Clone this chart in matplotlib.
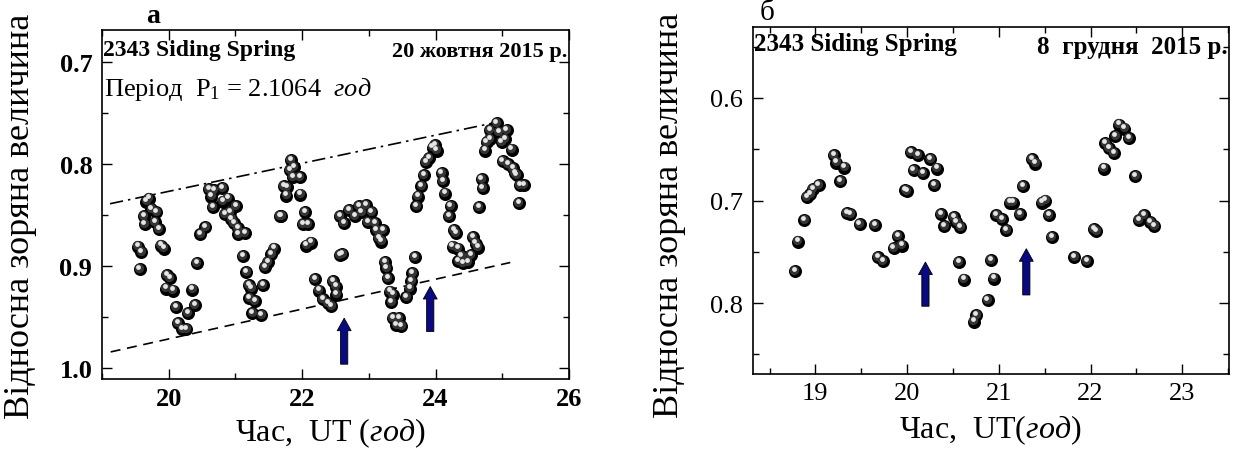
import matplotlib
matplotlib.use("Agg")
import matplotlib.pyplot as plt
from matplotlib.transforms import offset_copy
from matplotlib.ticker import MultipleLocator

plt.rcParams['font.family'] = ['Liberation Serif', 'DejaVu Serif']
plt.rcParams['mathtext.fontset'] = 'custom'
plt.rcParams['mathtext.rm'] = 'Liberation Serif'
plt.rcParams['mathtext.it'] = 'Liberation Serif:italic'

# -----------------------------------------------------------
# дані: 20 жовтня 2015 (панель а)
# -----------------------------------------------------------
t1 = [19.540, 19.565, 19.590, 19.630, 19.640, 19.665, 19.705, 19.740, 19.790, 19.815,
      19.855, 19.880, 19.925, 19.955, 19.975, 20.015, 20.065, 20.105, 20.140, 20.205,
      20.265, 20.290, 20.355, 20.390, 20.425, 20.475, 20.550, 20.605, 20.640, 20.665,
      20.675, 20.805, 20.815, 20.840, 20.890, 20.915, 20.940, 20.975, 21.005, 21.040,
      21.045, 21.115, 21.140, 21.165, 21.205, 21.210, 21.240, 21.255, 21.290, 21.390,
      21.415, 21.440, 21.490, 21.540, 21.580, 21.665, 21.690, 21.725, 21.765, 21.775,
      21.815, 21.830, 21.865, 21.875, 21.965, 21.975, 22.015, 22.040, 22.065, 22.090,
      22.130, 22.190, 22.255, 22.314, 22.389, 22.439, 22.464, 22.504, 22.514, 22.564,
      22.565, 22.604, 22.624, 22.704, 22.789, 22.854, 22.889, 22.954, 22.989, 23.039,
      23.089, 23.114, 23.154, 23.189, 23.214, 23.239, 23.264, 23.289, 23.314, 23.339,
      23.364, 23.366, 23.414, 23.454, 23.489, 23.564, 23.614, 23.639, 23.654, 23.689,
      23.714, 23.739, 23.789, 23.824, 23.854, 23.904, 23.954, 23.989, 24.014, 24.089,
      24.114, 24.139, 24.204, 24.224, 24.254, 24.274, 24.304, 24.339, 24.341, 24.389,
      24.414, 24.489, 24.529, 24.564, 24.599, 24.639, 24.649, 24.689, 24.704, 24.739,
      24.764, 24.814, 24.816, 24.914, 24.954, 24.989, 25.004, 25.039, 25.064, 25.089,
      25.139, 25.164, 25.189, 25.214, 25.254, 25.264, 25.324]
m1 = [0.881, 0.903, 0.886, 0.851, 0.859, 0.837, 0.834, 0.844, 0.857, 0.847,
      0.864, 0.880, 0.883, 0.922, 0.909, 0.912, 0.924, 0.940, 0.956, 0.962,
      0.962, 0.946, 0.923, 0.938, 0.897, 0.869, 0.862, 0.825, 0.832, 0.842,
      0.826, 0.824, 0.837, 0.849, 0.834, 0.847, 0.854, 0.858, 0.841, 0.863,
      0.869, 0.890, 0.868, 0.906, 0.919, 0.931, 0.922, 0.946, 0.934, 0.948,
      0.919, 0.901, 0.896, 0.888, 0.883, 0.851, 0.851, 0.822, 0.831, 0.823,
      0.806, 0.796, 0.813, 0.803, 0.813, 0.830, 0.859, 0.847, 0.880, 0.859,
      0.877, 0.913, 0.924, 0.932, 0.936, 0.939, 0.915, 0.920, 0.928, 0.889,
      0.851, 0.888, 0.858, 0.845, 0.851, 0.841, 0.847, 0.840, 0.857, 0.847,
      0.858, 0.865, 0.873, 0.876, 0.865, 0.896, 0.902, 0.912, 0.925, 0.935,
      0.928, 0.951, 0.958, 0.951, 0.959, 0.930, 0.922, 0.915, 0.907, 0.891,
      0.841, 0.832, 0.822, 0.811, 0.798, 0.794, 0.784, 0.782, 0.787, 0.809,
      0.817, 0.829, 0.851, 0.841, 0.881, 0.865, 0.868, 0.883, 0.895, 0.890,
      0.897, 0.896, 0.889, 0.872, 0.878, 0.882, 0.842, 0.815, 0.824, 0.787,
      0.779, 0.776, 0.767, 0.760, 0.769, 0.779, 0.797, 0.776, 0.767, 0.800,
      0.786, 0.804, 0.809, 0.811, 0.838, 0.821, 0.821]

# огинаючі (верхня штрих-пунктир, нижня штрихова)
env_t1 = [19.12, 25.01]
env_up1 = [0.839, 0.758]
env_t2 = [19.13, 25.12]
env_lo1 = [0.984, 0.8965]

# стрілки: час, вістря, основа
arr_t1 = [22.63, 23.92]
arr_tip1 = [0.951, 0.920]
arr_base1 = [0.996, 0.964]

# -----------------------------------------------------------
# дані: 8 грудня 2015 (панель б)
# -----------------------------------------------------------
t2 = [18.775, 18.811, 18.880, 18.909, 18.945, 18.975, 19.036, 19.200, 19.229, 19.273,
      19.316, 19.345, 19.382, 19.483, 19.647, 19.680, 19.738, 19.854, 19.901, 19.945,
      19.981, 20.000, 20.043, 20.072, 20.116, 20.174, 20.254, 20.298, 20.327, 20.371,
      20.407, 20.509, 20.538, 20.563, 20.581, 20.618, 20.727, 20.756, 20.879, 20.916,
      20.945, 20.974, 21.036, 21.083, 21.119, 21.156, 21.229, 21.265, 21.363, 21.400,
      21.472, 21.509, 21.545, 21.581, 21.825, 21.963, 22.035, 22.064, 22.144, 22.163,
      22.199, 22.254, 22.272, 22.308, 22.370, 22.418, 22.490, 22.526, 22.581, 22.654,
      22.697]
m2 = [0.769, 0.740, 0.719, 0.697, 0.694, 0.689, 0.685, 0.656, 0.663, 0.681,
      0.668, 0.712, 0.713, 0.723, 0.724, 0.755, 0.759, 0.746, 0.735, 0.744,
      0.690, 0.691, 0.653, 0.670, 0.656, 0.673, 0.660, 0.685, 0.669, 0.713,
      0.725, 0.716, 0.721, 0.760, 0.726, 0.777, 0.818, 0.812, 0.797, 0.758,
      0.776, 0.714, 0.718, 0.729, 0.702, 0.702, 0.713, 0.686, 0.660, 0.664,
      0.702, 0.700, 0.714, 0.736, 0.755, 0.759, 0.728, 0.730, 0.669, 0.644,
      0.649, 0.654, 0.637, 0.626, 0.630, 0.639, 0.676, 0.719, 0.714, 0.721,
      0.725]

arr_t2 = [20.20, 21.30]
arr_tip2 = [0.760, 0.747]
arr_base2 = [0.803, 0.792]


def spheres(ax, x, y):
    # блискучі кульки: чорна основа + сірий відблиск
    ax.scatter(x, y, s=88, color='black', zorder=3, linewidths=0)
    tr = offset_copy(ax.transData, fig=ax.figure, x=-0.8, y=1.2, units='dots')
    ax.scatter(x, y, s=45, color='#353535', zorder=4, linewidths=0, transform=tr)
    tr2 = offset_copy(ax.transData, fig=ax.figure, x=-1.2, y=2.2, units='dots')
    ax.scatter(x, y, s=12, color='#e6e6e6', zorder=5, linewidths=0, transform=tr2)


def arrows(ax, ts, tips, bases):
    for t, a, b in zip(ts, tips, bases):
        ax.annotate('', xy=(t, a), xytext=(t, b),
                    arrowprops=dict(arrowstyle='simple,head_length=0.45,head_width=0.5,tail_width=0.26',
                                    fc='#0a0a80', ec='black', lw=0.6,
                                    shrinkA=0, shrinkB=0, mutation_scale=20),
                    zorder=6)


def style_axes(ax):
    ax.tick_params(which='both', direction='in', top=True, right=True, width=1.0)
    ax.tick_params(which='major', length=7)
    ax.tick_params(which='minor', length=4)
    ax.tick_params(axis='x', pad=6)
    ax.tick_params(axis='y', pad=7)
    for sp in ax.spines.values():
        sp.set_linewidth(1.2)


fig = plt.figure(figsize=(12.36, 4.52), dpi=100)

# -------------------- панель а --------------------
ax1 = fig.add_axes([102 / 1236, 72 / 452, 467 / 1236, 349 / 452])
spheres(ax1, t1, m1)
ax1.plot(env_t1, env_up1, color='black', lw=1.2, ls='-.', dashes=[8, 3, 1.5, 3])
ax1.plot(env_t2, env_lo1, color='black', lw=1.2, ls='--', dashes=[6, 4])
arrows(ax1, arr_t1, arr_tip1, arr_base1)

ax1.set_xlim(19, 26)
ax1.set_ylim(1.0105, 0.669)
ax1.xaxis.set_major_locator(MultipleLocator(2))
ax1.xaxis.set_minor_locator(MultipleLocator(1))
ax1.yaxis.set_major_locator(MultipleLocator(0.1))
ax1.yaxis.set_minor_locator(MultipleLocator(0.05))
ax1.yaxis.set_major_formatter(plt.FormatStrFormatter('%.1f'))
style_axes(ax1)
for lab in ax1.get_xticklabels() + ax1.get_yticklabels():
    lab.set_fontweight('bold')
    lab.set_fontsize(19)

ax1.set_xlabel('Час,  UT ($\\mathit{год}$)', fontsize=23)
ax1.xaxis.set_label_coords(0.488, -0.105)
ax1.set_ylabel('Відносна зоряна величина', fontsize=26)
ax1.yaxis.set_label_coords(-0.14, 0.47)

ax1.text(0.003, 0.975, '2343 Siding Spring', transform=ax1.transAxes,
         fontsize=17, fontweight='bold', ha='left', va='top')
ax1.text(0.997, 0.968, '20 жовтня 2015 р.', transform=ax1.transAxes,
         fontsize=16, fontweight='bold', ha='right', va='top')
ax1.text(0.005, 0.87, 'Період  P$_1$ = 2.1064  $\\mathit{год}$', transform=ax1.transAxes,
         fontsize=19, ha='left', va='top')
ax1.text(0.11, 1.005, 'а', transform=ax1.transAxes, fontsize=20,
         fontweight='bold', ha='center', va='bottom')

# -------------------- панель б --------------------
ax2 = fig.add_axes([753 / 1236, 77 / 452, 476 / 1236, 347 / 452])
spheres(ax2, t2, m2)
arrows(ax2, arr_t2, arr_tip2, arr_base2)

ax2.set_xlim(18.32, 23.51)
ax2.set_ylim(0.869, 0.531)
ax2.xaxis.set_major_locator(MultipleLocator(1))
ax2.xaxis.set_minor_locator(MultipleLocator(0.5))
ax2.yaxis.set_major_locator(MultipleLocator(0.1))
ax2.yaxis.set_minor_locator(MultipleLocator(0.05))
ax2.yaxis.set_major_formatter(plt.FormatStrFormatter('%.1f'))
style_axes(ax2)
for lab in ax2.get_xticklabels() + ax2.get_yticklabels():
    lab.set_fontsize(19)

ax2.set_xlabel('Час,  UT($\\mathit{год}$)', fontsize=23)
ax2.xaxis.set_label_coords(0.498, -0.11)
ax2.set_ylabel('Відносна зоряна величина', fontsize=26)
ax2.yaxis.set_label_coords(-0.14, 0.46)

ax2.text(0.003, 0.985, '2343 Siding Spring', transform=ax2.transAxes,
         fontsize=18, fontweight='bold', ha='left', va='top')
ax2.text(0.997, 0.978, '8  грудня  2015 р.', transform=ax2.transAxes,
         fontsize=18, fontweight='bold', ha='right', va='top')
ax2.text(0.03, 1.005, 'б', transform=ax2.transAxes, fontsize=21,
         ha='center', va='bottom')

fig.savefig('out.png', dpi=100)
